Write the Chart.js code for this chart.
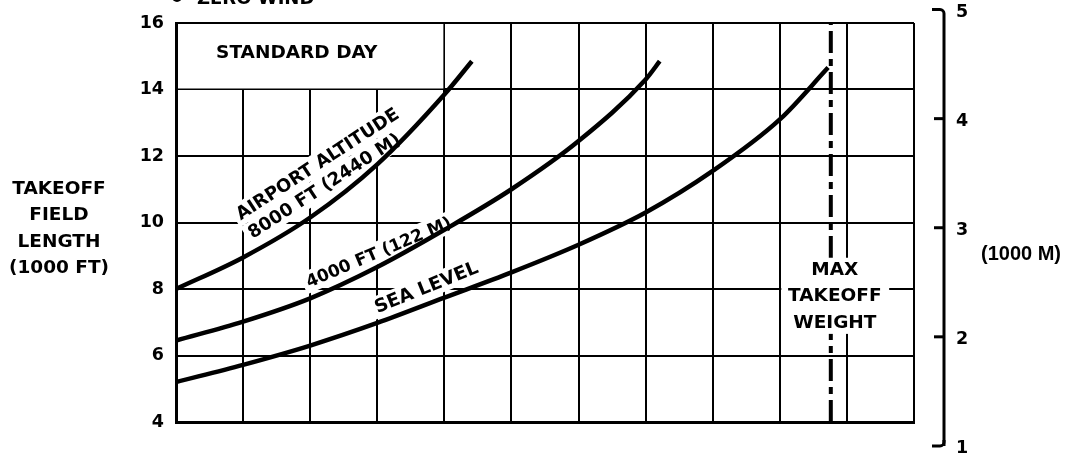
<!DOCTYPE html>
<html>
<head>
<meta charset="utf-8">
<script src="https://cdn.jsdelivr.net/npm/chart.js@4.4.1/dist/chart.umd.min.js"></script>
<style>
  html, body { margin: 0; padding: 0; background: #fff; }
</style>
</head>
<body>
<canvas id="chart" width="1071" height="453"></canvas>
<script>
// grid columns have no labels in the original, x runs 0..11 column widths
const xMin = 0, xMax = 11;
const yTicksFt = [4, 6, 8, 10, 12, 14, 16];
const meterTicks = [1, 2, 3, 4, 5];
const FT_PER_M = 3.28084;

// takeoff field length (1000 ft)
const seaLevelX = [0, 1, 2, 3, 4, 5, 6, 7, 8, 9, 9.72];
const seaLevelY = [5.2, 5.72, 6.3, 6.98, 7.74, 8.5, 9.33, 10.3, 11.55, 13.1, 14.66];
const alt4000X = [0, 1, 2, 3, 4, 5, 6, 7, 7.21];
const alt4000Y = [6.45, 7.02, 7.72, 8.66, 9.78, 11.0, 12.45, 14.3, 14.85];
const alt8000X = [0, 1, 2, 3, 4, 4.41];
const alt8000Y = [8.0, 8.95, 10.15, 11.75, 13.85, 14.85];
const maxTakeoffX = 9.76;

const FONT = "'DejaVu Sans', Verdana, sans-serif";
const pts = (xs, ys) => xs.map((x, i) => ({ x, y: ys[i] }));

const curve = {
  borderColor: '#000',
  borderWidth: 4.5,
  pointRadius: 0,
  cubicInterpolationMode: 'monotone',
  fill: false
};

function tilted(ctx, lines, px, py, deg, size, gap) {
  ctx.save();
  ctx.translate(px, py);
  ctx.rotate(-deg * Math.PI / 180);
  ctx.font = `bold ${size}px ${FONT}`;
  ctx.textAlign = 'left';
  ctx.textBaseline = 'middle';
  lines.forEach((t, i) => {
    const w = ctx.measureText(t).width;
    ctx.fillStyle = '#fff';
    ctx.fillRect(-4, i * gap - 11, w + 8, 22);
  });
  ctx.fillStyle = '#000';
  lines.forEach((t, i) => ctx.fillText(t, 0, i * gap + 1));
  ctx.restore();
}

const decor = {
  id: 'decor',
  beforeDatasetsDraw(chart) {
    const { ctx, scales: { x, y } } = chart;
    // merged cell for the "STANDARD DAY" note
    ctx.save();
    ctx.fillStyle = '#fff';
    ctx.fillRect(x.getPixelForValue(0) + 2, y.getPixelForValue(16) + 1,
      x.getPixelForValue(4) - x.getPixelForValue(0) - 3, y.getPixelForValue(14) - y.getPixelForValue(16) - 2);
    ctx.fillStyle = '#000';
    ctx.font = `bold 18.5px ${FONT}`;
    ctx.textAlign = 'center';
    ctx.textBaseline = 'middle';
    ctx.fillText('STANDARD DAY', x.getPixelForValue(1.8), y.getPixelForValue(15.1));
    ctx.restore();

    tilted(ctx, ['AIRPORT ALTITUDE', '8000 FT (2440 M)'], x.getPixelForValue(0.92), y.getPixelForValue(10.2), 33, 18, 22);
    tilted(ctx, ['4000 FT (122 M)'], x.getPixelForValue(1.95), y.getPixelForValue(8.19), 23, 17, 22);
    tilted(ctx, ['SEA LEVEL'], x.getPixelForValue(2.97), y.getPixelForValue(7.43), 22, 18.5, 22);
  },
  afterDatasetsDraw(chart) {
    const { ctx, scales: { x, y } } = chart;
    ctx.save();
    const l = x.getPixelForValue(9) + 1.5, r = x.getPixelForValue(10.63);
    const t = y.getPixelForValue(8.94), b = y.getPixelForValue(6.65);
    ctx.fillStyle = '#fff';
    ctx.fillRect(l, t, r - l, b - t);
    ctx.fillStyle = '#000';
    ctx.font = `bold 18.5px ${FONT}`;
    ctx.textAlign = 'center';
    ctx.textBaseline = 'middle';
    const cx = x.getPixelForValue(9.82);
    ctx.fillText('MAX', cx, y.getPixelForValue(8.58));
    ctx.fillText('TAKEOFF', cx, y.getPixelForValue(7.77));
    ctx.fillText('WEIGHT', cx, y.getPixelForValue(6.98));
    ctx.restore();
  },
  afterDraw(chart) {
    const { ctx, chartArea, scales: { y } } = chart;
    ctx.save();
    ctx.fillStyle = '#000';
    ctx.strokeStyle = '#000';
    ctx.textBaseline = 'middle';

    // left axis title
    ctx.font = `bold 18.5px ${FONT}`;
    ctx.textAlign = 'center';
    ['TAKEOFF', 'FIELD', 'LENGTH', '(1000 FT)'].forEach((t, i) => ctx.fillText(t, 59, 189 + i * 26.5));

    // right bracket in metres
    const bx = chartArea.right + 30;
    const top = y.getPixelForValue(meterTicks[meterTicks.length - 1] * FT_PER_M);
    const bot = y.getPixelForValue(meterTicks[0] * FT_PER_M);
    ctx.lineWidth = 3;
    ctx.beginPath();
    ctx.moveTo(bx - 12, top);
    ctx.arcTo(bx, top, bx, top + 6, 4);
    ctx.lineTo(bx, bot);
    ctx.stroke();
    ctx.beginPath();
    ctx.moveTo(bx, bot - 6);
    ctx.arcTo(bx, bot, bx - 12, bot, 4);
    ctx.lineTo(bx - 12, bot);
    ctx.stroke();
    ctx.font = `bold 17.5px ${FONT}`;
    ctx.textAlign = 'left';
    meterTicks.forEach(m => {
      const py = y.getPixelForValue(m * FT_PER_M);
      if (m !== meterTicks[0] && m !== meterTicks[meterTicks.length - 1]) {
        ctx.beginPath();
        ctx.moveTo(bx - 10, py);
        ctx.lineTo(bx, py);
        ctx.stroke();
      }
      ctx.fillText(String(m), bx + 12, py + 3);
    });
    ctx.font = `bold 20px 'Liberation Sans', Arial, sans-serif`;
    ctx.textAlign = 'center';
    ctx.fillText('(1000 M)', 1021, 254);

    // header cut off at the top edge
    ctx.textBaseline = 'alphabetic';
    ctx.textAlign = 'left';
    ctx.font = `bold 18px ${FONT}`;
    ctx.fillText('ZERO WIND', 197, 3.5);
    ctx.beginPath();
    ctx.arc(177, -3, 5, 0, Math.PI * 2);
    ctx.fill();
    ctx.restore();
  }
};

new Chart(document.getElementById('chart'), {
  type: 'line',
  data: {
    datasets: [
      { label: 'Sea level', data: pts(seaLevelX, seaLevelY), ...curve },
      { label: '4000 ft', data: pts(alt4000X, alt4000Y), ...curve },
      { label: '8000 ft', data: pts(alt8000X, alt8000Y), ...curve },
      {
        label: 'Max takeoff weight',
        data: [{ x: maxTakeoffX, y: yTicksFt[0] }, { x: maxTakeoffX, y: yTicksFt[yTicksFt.length - 1] }],
        borderColor: '#000',
        borderWidth: 4,
        borderDash: [22, 6, 7, 6],
        pointRadius: 0,
        fill: false
      }
    ]
  },
  options: {
    responsive: false,
    animation: false,
    layout: { padding: { left: 0, right: 157, top: 23, bottom: 31 } },
    plugins: { legend: { display: false }, tooltip: { enabled: false } },
    scales: {
      x: {
        type: 'linear',
        min: xMin,
        max: xMax,
        ticks: { stepSize: 1, display: false },
        grid: { color: '#000', lineWidth: 2, drawTicks: false },
        border: { color: '#000', width: 3 }
      },
      y: {
        min: yTicksFt[0],
        max: yTicksFt[yTicksFt.length - 1],
        ticks: {
          stepSize: 2,
          color: '#000',
          padding: 12,
          font: { family: FONT, size: 17.5, weight: 'bold' }
        },
        grid: { color: '#000', lineWidth: 2, drawTicks: false },
        border: { color: '#000', width: 3 },
        afterFit: s => { s.width = 176; }
      }
    }
  },
  plugins: [decor]
});
</script>
</body>
</html>
